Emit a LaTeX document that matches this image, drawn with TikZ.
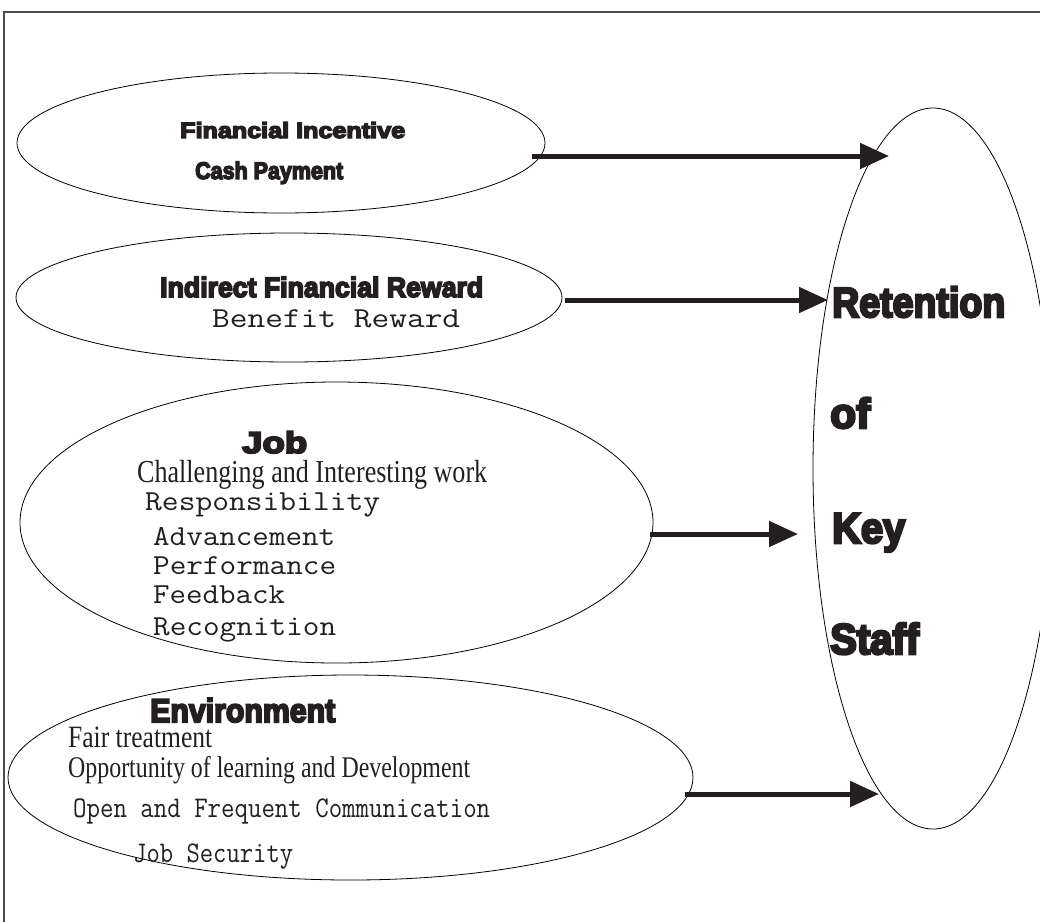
\documentclass[tikz,border=0pt]{standalone}
\usepackage{fontspec}
\usepackage{graphicx}
\usetikzlibrary{shapes.geometric,arrows.meta}
\newfontfamily\heavy{Liberation Sans Bold}[FakeBold=6]
\newfontfamily\monof{Latin Modern Mono}
\newfontfamily\serf{Liberation Serif}
\newcommand\hv[1]{\heavy\fontsize{#1}{#1}\selectfont}
\newcommand\mo[1]{\monof\fontsize{#1}{#1}\selectfont}
\newcommand\nr[1]{\serf\fontsize{#1}{#1}\selectfont}
\newcommand\fitx[2]{\sbox0{#2}\pgfmathsetmacro\fx{#1/\the\wd0}\scalebox{\fx}[1]{\usebox0}}
\definecolor{ink}{HTML}{231F20}
\tikzset{
  oval/.style={ellipse, draw=black, line width=0.8pt, inner sep=0pt},
  arr/.style={draw=ink, line width=5pt, -{Triangle[length=29pt,width=25pt]}},
  lbl/.style={anchor=base west, inner sep=0pt, text=ink},
}
\begin{document}
\begin{tikzpicture}[x=1pt,y=-1pt]
\useasboundingbox (0,0) rectangle (1040,921);
\clip (0,0) rectangle (1040,921);
\draw[draw=black!70, line width=1.2pt] (4,12) rectangle (1060,940);
% ellipses
\node[oval, minimum width=528pt, minimum height=140pt] (fin) at (281,143) {};
\node[oval, minimum width=546pt, minimum height=129pt] (ind) at (289,297.5) {};
\node[oval, minimum width=633pt, minimum height=281pt] (job) at (336.5,522.5) {};
\node[oval, minimum width=685pt, minimum height=205pt] (env) at (350.5,777.5) {};
\node[oval, minimum width=240pt, minimum height=721pt] (ret) at (933,468.5) {};
% texts
\node[lbl] (t1) at (180,138) {\hv{22}\fitx{225}{Financial Incentive}};
\node[lbl] (t2) at (195,179) {\hv{24}\fitx{148}{Cash Payment}};
\node[lbl] (t3) at (160,297) {\hv{28}\fitx{323}{Indirect Financial Reward}};
\node[lbl] (t4) at (212,327) {\mo{29}\fitx{248}{Benefit Reward}};
\node[lbl] (t5) at (242,453) {\hv{30}\fitx{65}{Job}};
\node[lbl] (t6) at (137,482) {\nr{32}\fitx{350}{Challenging and Interesting work}};
\node[lbl] (t7) at (145,510) {\mo{29}\fitx{235}{Responsibility}};
\node[lbl] (t8) at (153,545) {\mo{29}\fitx{182}{Advancement}};
\node[lbl] (t9) at (153,574) {\mo{29}\fitx{183}{Performance}};
\node[lbl] (t10) at (153,603) {\mo{29}\fitx{132}{Feedback}};
\node[lbl] (t11) at (153,635) {\mo{29}\fitx{183}{Recognition}};
\node[lbl] (t12) at (150,722) {\hv{33}\fitx{185}{Environment}};
\node[lbl] (t13) at (68,747) {\nr{31}\fitx{144}{Fair treatment}};
\node[lbl] (t14) at (68,777) {\nr{30}\fitx{402}{Opportunity of learning and Development}};
\node[lbl] (t15) at (73,817) {\mo{30}\fitx{417}{Open and Frequent Communication}};
\node[lbl] (t16) at (133,862) {\mo{30}\fitx{160}{Job Security}};
\node[lbl] (r1) at (832,317) {\hv{42}\fitx{173}{Retention}};
\node[lbl] (r2) at (830,428) {\hv{42}\fitx{40}{of}};
\node[lbl] (r3) at (832,543) {\hv{43}\fitx{73}{Key}};
\node[lbl] (r4) at (830,654) {\hv{43}\fitx{89}{Staff}};
% arrow ends
\coordinate (a1s) at (532,156); \coordinate (a1e) at (889,156);
\coordinate (a2s) at (565,300); \coordinate (a2e) at (828,300);
\coordinate (a3s) at (650,534); \coordinate (a3e) at (798,534);
\coordinate (a4s) at (685,794); \coordinate (a4e) at (879,794);
\draw[arr] (a1s) -- (a1e);
\draw[arr] (a2s) -- (a2e);
\draw[arr] (a3s) -- (a3e);
\draw[arr] (a4s) -- (a4e);
\end{tikzpicture}
\end{document}
